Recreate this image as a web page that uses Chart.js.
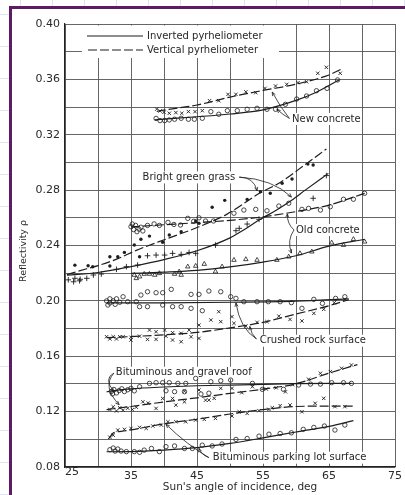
<!DOCTYPE html>
<html>
<head>
<meta charset="utf-8">
<script src="https://cdn.jsdelivr.net/npm/chart.js@4.4.1/dist/chart.umd.min.js"></script>
<style>
html, body { margin: 0; padding: 0; }
body {
  width: 405px; height: 495px; overflow: hidden; position: relative;
  background-color: #fff;
  background-image:
    repeating-linear-gradient(to bottom, transparent 0 14px, #dde5f3 14px 15px, transparent 15px 32px),
    repeating-linear-gradient(to right, transparent 0 20px, #dde5f3 20px 21px, transparent 21px 32px);
}
#chart { position: absolute; left: 0; top: 0; }
</style>
</head>
<body>
<canvas id="chart" width="405" height="495"></canvas>
<script>
// x = sun's angle of incidence (deg), y = reflectivity
const ncInvCurve = [[38.6,0.3308],[40,0.3313],[45,0.333],[50,0.335],[55,0.338],[60,0.3448],[63,0.3505],[66.5,0.3595]];
const ncVerCurve = [[38.9,0.3368],[40,0.3378],[45,0.3415],[50,0.3472],[55,0.352],[60,0.3565],[65,0.3632],[66.8,0.3672]];
const ncInvPts = [[38.8,0.3318],[39.4,0.3302],[40.1,0.3302],[40.8,0.3307],[41.6,0.3312],[42.6,0.3319],[43.7,0.3312],[44.6,0.3312],[45.8,0.3319],[47.1,0.3367],[48.3,0.3348],[49.6,0.3374],[51.1,0.3374],[52.6,0.3384],[54.1,0.3391],[55.6,0.3384],[56.9,0.3384],[58.4,0.342],[60.1,0.3458],[61.6,0.348],[63.1,0.3518],[64.7,0.3535],[66.3,0.3596]];
const ncVerPts = [[38.9,0.3385],[39.4,0.3372],[40.0,0.3362],[40.8,0.3355],[41.8,0.336],[42.7,0.3355],[43.7,0.3367],[44.7,0.3367],[45.8,0.3374],[46.9,0.3446],[48.3,0.3446],[49.7,0.3492],[50.9,0.3492],[52.4,0.351],[53.9,0.3504],[55.3,0.3535],[56.9,0.3552],[58.6,0.3564],[60.3,0.3576],[61.6,0.3583],[63.3,0.3644],[64.6,0.3687],[66.7,0.3644]];

const grassVerCurve = [[25.3,0.219],[28.3,0.2232],[30,0.2255],[33,0.2305],[35.8,0.2365],[40.8,0.2455],[45.3,0.2535],[49.5,0.2625],[54.4,0.2775],[57.6,0.2855],[61.4,0.2985],[64.6,0.3097]];
const grassVerPts = [[26.5,0.2258],[28.5,0.2254],[29.2,0.2246],[31.8,0.2252],[31.8,0.2319],[33.0,0.2319],[34.0,0.235],[35.5,0.2404],[36.3,0.2319],[36.5,0.2445],[37.8,0.2468],[39.8,0.2423],[40.8,0.2476],[42.6,0.25],[44.8,0.2577],[45.3,0.256],[47.3,0.2676],[49.2,0.2726],[52.6,0.2733],[54.6,0.2789],[56.1,0.2777],[57.9,0.2849],[59.4,0.288],[61.8,0.2988],[62.6,0.2981]];
const grassInvCurve = [[25.3,0.2185],[30,0.2205],[35,0.2248],[40,0.2298],[45,0.2362],[50,0.2455],[52,0.251],[54.4,0.2584],[57,0.2655],[59.4,0.2729],[61.4,0.280],[64.9,0.2921]];
const grassInvPts = [[25.5,0.2152],[26.3,0.2138],[27.2,0.2145],[26.5,0.2163],[27.3,0.2156],[28.3,0.2163],[29.3,0.2187],[30.5,0.2194],[32.8,0.2228],[34.3,0.2247],[36.0,0.2259],[37.5,0.2326],[38.8,0.2331],[40.1,0.2331],[41.3,0.2343],[42.6,0.2336],[43.8,0.235],[44.8,0.2343],[47.8,0.2403],[50.9,0.2507],[51.4,0.2524],[52.6,0.2555],[54.4,0.2589],[62.6,0.2741],[64.6,0.2905]];

const ocVerCurve = [[35,0.2535],[40,0.255],[45,0.2565],[50,0.2582],[55,0.2607],[60,0.2645],[65,0.2692],[70.4,0.2777]];
const ocVerPts = [[35.0,0.2536],[35.2,0.2555],[35.4,0.2515],[35.7,0.2545],[35.9,0.25],[36.2,0.2518],[36.5,0.2532],[36.8,0.2505],[37.5,0.2545],[38.5,0.2556],[39.3,0.2545],[40.6,0.2567],[41.5,0.2552],[42.5,0.2548],[43.6,0.2596],[44.5,0.2575],[45.3,0.26],[46.3,0.2577],[47.5,0.2577],[50.6,0.2633],[52.1,0.2656],[53.9,0.2661],[55.6,0.2651],[57.4,0.2685],[58.9,0.2705],[60.9,0.2661],[61.9,0.2668],[63.7,0.2656],[65.2,0.268],[67.2,0.2734],[68.7,0.2734],[70.4,0.2777]];
const ocInvCurve = [[35,0.2198],[40,0.2207],[45,0.222],[50,0.2245],[55,0.228],[60,0.2326],[65,0.2395],[70.4,0.2445]];
const ocInvPts = [[35.5,0.2187],[35.8,0.2163],[36.3,0.2175],[37.0,0.2194],[37.8,0.2194],[38.6,0.2187],[39.3,0.2199],[41.6,0.2194],[42.3,0.2211],[42.6,0.2187],[43.6,0.2247],[44.8,0.2252],[46.1,0.2266],[47.8,0.2211],[48.8,0.2247],[50.6,0.2295],[52.4,0.23],[54.1,0.2295],[57.1,0.2295],[58.9,0.2319],[60.6,0.2343],[62.4,0.2355],[65.4,0.242],[67.2,0.2403],[68.7,0.2445],[70.4,0.2427]];

const crInvCurve = [[31.3,0.1985],[40,0.1986],[50,0.199],[60,0.1998],[68,0.2015]];
const crInvPts = [[31.3,0.2],[31.8,0.2015],[32.3,0.2],[32.8,0.2015],[31.8,0.1985],[32.6,0.1975],[33.3,0.199],[31.5,0.197],[33.8,0.203],[34.5,0.1994],[35.8,0.1994],[36.5,0.2042],[36.3,0.1958],[37.5,0.2066],[37.5,0.1958],[38.8,0.2059],[39.8,0.2059],[39.8,0.197],[41.1,0.2083],[41.3,0.1958],[42.6,0.1958],[44.1,0.2047],[44.1,0.1946],[45.3,0.2047],[45.8,0.1929],[46.8,0.2071],[48.6,0.2066],[50.1,0.203],[50.9,0.2018],[52.1,0.1994],[54.1,0.1994],[55.8,0.1994],[57.6,0.1994],[59.3,0.1987],[60.9,0.1946],[62.7,0.2011],[64.0,0.1982],[66.0,0.2018],[67.4,0.203]];
const crVerCurve = [[31.3,0.1735],[35,0.1742],[40,0.1755],[45,0.1772],[50,0.1805],[55,0.1845],[60,0.1905],[65,0.1965],[68,0.2008]];
const crVerPts = [[31.3,0.1741],[31.8,0.1725],[32.3,0.1741],[32.8,0.1725],[33.3,0.1741],[33.8,0.1741],[35.0,0.1717],[35.0,0.1737],[36.3,0.1745],[37.5,0.1722],[37.8,0.1789],[38.8,0.1722],[38.8,0.1777],[40.1,0.1789],[40.3,0.1745],[41.3,0.1717],[41.3,0.177],[42.6,0.1705],[42.6,0.1766],[43.8,0.1789],[44.1,0.1741],[45.3,0.1729],[45.3,0.1825],[47.1,0.1862],[48.6,0.185],[48.3,0.1922],[50.3,0.1886],[50.6,0.1838],[52.4,0.1818],[54.1,0.1845],[55.6,0.185],[57.4,0.189],[59.1,0.1866],[60.9,0.1855],[62.7,0.191],[64.2,0.1939],[65.8,0.1987],[67.4,0.2011]];

const rfInvCurve = [[31.3,0.1343],[33,0.1355],[35,0.1365],[40,0.1378],[45,0.1387],[50,0.1392],[55,0.1397],[60,0.1402],[68.4,0.1404]];
const rfInvPts = [[32.0,0.1345],[32.2,0.1328],[32.4,0.136],[32.8,0.1335],[33.2,0.1352],[33.6,0.1365],[34.0,0.1345],[34.5,0.1358],[35.0,0.1368],[35.5,0.135],[36.3,0.138],[37.8,0.1404],[38.8,0.1409],[39.8,0.1409],[40.8,0.1409],[40.3,0.1351],[41.6,0.1344],[42.1,0.1404],[43.3,0.1404],[43.1,0.1344],[44.8,0.144],[45.6,0.1327],[46.8,0.1333],[47.1,0.1416],[48.6,0.1423],[50.1,0.1428],[53.4,0.1404],[54.9,0.1361],[58.1,0.1361],[60.4,0.1392],[62.2,0.1399],[63.7,0.1399],[65.4,0.1409],[67.2,0.1409],[68.4,0.1404]];
const rfVerCurve = [[31.3,0.1215],[35,0.1237],[40,0.127],[45,0.13],[50,0.1332],[55,0.1362],[60,0.1401],[65,0.1478],[69.3,0.154]];
const rfVerPts = [[31.8,0.1215],[32.3,0.1235],[32.8,0.1205],[33.3,0.1228],[33.8,0.121],[34.5,0.1225],[35.2,0.1215],[35.8,0.1232],[36.8,0.1271],[37.6,0.1262],[38.8,0.1223],[39.8,0.1295],[41.3,0.1295],[41.8,0.1247],[43.1,0.1271],[43.1,0.1348],[45.3,0.1356],[46.3,0.1283],[46.8,0.1283],[47.6,0.1296],[48.6,0.1368],[50.3,0.1368],[51.8,0.1337],[53.4,0.138],[55.5,0.1363],[57.0,0.1372],[58.4,0.1343],[59.5,0.1395],[61.9,0.1434],[63.7,0.1477],[65.2,0.1489],[66.9,0.1513],[68.4,0.1537]];

const pkVerCurve = [[31.6,0.1003],[32.3,0.1045],[33.5,0.1057],[35,0.1068],[40,0.1112],[45,0.1145],[50,0.1183],[55,0.1215],[60,0.1237],[65,0.124],[69,0.124]];
const pkVerPts = [[31.8,0.1015],[32.3,0.103],[33.0,0.1067],[34.0,0.1072],[35.0,0.1079],[36.3,0.1086],[37.3,0.1079],[38.3,0.1096],[39.6,0.1103],[40.6,0.1127],[41.8,0.1127],[43.3,0.1127],[44.8,0.1139],[46.1,0.1144],[47.8,0.1151],[50.3,0.1168],[51.4,0.1199],[52.6,0.1187],[54.4,0.1207],[55.9,0.1216],[56.4,0.1228],[57.6,0.1243],[59.1,0.1248],[60.9,0.1199],[62.9,0.126],[64.2,0.1296],[65.9,0.1236],[67.4,0.1236]];
const pkInvCurve = [[31.3,0.091],[35,0.0911],[40,0.0922],[45,0.094],[50,0.097],[55,0.101],[60,0.1053],[65,0.1093],[68.7,0.1135]];
const pkInvPts = [[31.8,0.0925],[32.3,0.0937],[32.6,0.0915],[33.0,0.093],[33.5,0.0915],[34.3,0.0911],[35.5,0.0911],[36.3,0.0906],[37.0,0.0922],[38.1,0.0934],[39.3,0.0911],[40.3,0.0947],[41.6,0.0952],[43.1,0.0934],[44.3,0.0934],[45.8,0.0958],[47.3,0.0952],[48.8,0.0966],[50.9,0.0999],[52.6,0.1006],[54.4,0.1023],[55.9,0.1037],[57.6,0.1042],[59.3,0.1047],[61.1,0.1072],[62.7,0.1086],[64.3,0.1096],[65.9,0.1067],[67.4,0.1103]];

const xLabels = [35, 45, 55, 65, 75];
const yLabels = [0.08, 0.12, 0.16, 0.20, 0.24, 0.28, 0.32, 0.36, 0.40];
const legendNames = ['Inverted pyrheliometer', 'Vertical pyrheliometer'];

// label text, anchor (x, y) and leader lines [start, bend, end]
const noteTexts = ['New concrete', 'Bright green grass', 'Old concrete', 'Crushed rock surface', 'Bituminous and gravel roof', 'Bituminous parking lot surface'];
const noteAnchors = [[59.4,0.3314],[36.75,0.2892],[60.0,0.2512],[54.5,0.1712],[32.7,0.1481],[47.4,0.0867]];
const noteLeaders = [
  [[[59.0,0.3318],[57.6,0.34],[56.4,0.3508]], [[59.0,0.3318],[58.0,0.3345],[57.1,0.3384]]],
  [[[51.4,0.2894],[53.6,0.2895],[54.1,0.2795]], [[51.4,0.2894],[56.5,0.288],[59.3,0.275]]],
  [[[59.7,0.2512],[58.6,0.256],[58.7,0.2628]], [[59.7,0.2512],[58.6,0.244],[59.3,0.2345]]],
  [[[54.0,0.1725],[51.5,0.18],[50.9,0.1985]], [[54.0,0.1725],[53.2,0.176],[53.0,0.1815]]],
  [[[32.4,0.1478],[30.8,0.144],[32.4,0.1345]], [[32.4,0.1478],[30.6,0.138],[33.2,0.125]]],
  [[[46.8,0.0868],[43.5,0.096],[40.3,0.1108]], [[46.8,0.0868],[45.6,0.089],[45.3,0.0935]]]
];

const ink = '#1e1e1e';
const toXY = a => a.map(p => ({ x: p[0], y: p[1] }));

const markStyles = {
  circle: { pointStyle: 'circle', pointRadius: 2.2, pointBackgroundColor: 'rgba(0,0,0,0)', pointBorderWidth: 0.8 },
  cross: { pointStyle: 'crossRot', pointRadius: 2.4, pointBorderWidth: 0.9 },
  plus: { pointStyle: 'cross', pointRadius: 2.8, pointBorderWidth: 0.9 },
  dot: { pointStyle: 'circle', pointRadius: 1.7, pointBackgroundColor: ink, pointBorderWidth: 0 },
  tri: { pointStyle: 'triangle', pointRadius: 2.6, pointBackgroundColor: 'rgba(0,0,0,0)', pointBorderWidth: 0.8 }
};

function curve(arr, dashed) {
  return {
    data: toXY(arr), showLine: true, pointRadius: 0,
    borderColor: ink, borderWidth: 1.2, borderDash: dashed ? [9, 3] : [],
    cubicInterpolationMode: 'monotone', fill: false
  };
}
function marks(arr, kind) {
  return Object.assign({ data: toXY(arr), showLine: false, pointBorderColor: ink }, markStyles[kind]);
}

const datasets = [
  curve(ncInvCurve, false), curve(ncVerCurve, true), marks(ncInvPts, 'circle'), marks(ncVerPts, 'cross'),
  curve(grassVerCurve, true), curve(grassInvCurve, false), marks(grassVerPts, 'dot'), marks(grassInvPts, 'plus'),
  curve(ocVerCurve, true), curve(ocInvCurve, false), marks(ocVerPts, 'circle'), marks(ocInvPts, 'tri'),
  curve(crInvCurve, false), curve(crVerCurve, true), marks(crInvPts, 'circle'), marks(crVerPts, 'cross'),
  curve(rfInvCurve, false), curve(rfVerCurve, true), marks(rfInvPts, 'circle'), marks(rfVerPts, 'cross'),
  curve(pkVerCurve, true), curve(pkInvCurve, false), marks(pkVerPts, 'cross'), marks(pkInvPts, 'circle')
];

const FONT = '"DejaVu Sans", sans-serif';

const framePlugin = {
  id: 'frame',
  beforeDraw(chart) {
    const ctx = chart.ctx;
    ctx.save();
    ctx.fillStyle = '#fff';
    ctx.fillRect(10, 7, 395, 488);
    ctx.strokeStyle = '#5e1a63';
    ctx.lineWidth = 3;
    ctx.beginPath();
    ctx.moveTo(10.5, 495);
    ctx.lineTo(10.5, 7.5);
    ctx.lineTo(405, 7.5);
    ctx.stroke();
    ctx.restore();
  }
};

function arrowHead(ctx, fx, fy, tx, ty) {
  const a = Math.atan2(ty - fy, tx - fx);
  ctx.beginPath();
  ctx.moveTo(tx, ty);
  ctx.lineTo(tx - 4 * Math.cos(a - 0.4), ty - 4 * Math.sin(a - 0.4));
  ctx.moveTo(tx, ty);
  ctx.lineTo(tx - 4 * Math.cos(a + 0.4), ty - 4 * Math.sin(a + 0.4));
  ctx.stroke();
}

const notesPlugin = {
  id: 'notes',
  beforeDatasetsDraw(chart) {
    const ctx = chart.ctx, xs = chart.scales.x, ys = chart.scales.y;
    ctx.save();
    ctx.fillStyle = '#fff';
    // legend box hides the grid behind it
    ctx.fillRect(82, 25.5, 197, 32.5);
    ctx.font = '10px ' + FONT;
    noteTexts.forEach((t, i) => {
      const px = xs.getPixelForValue(noteAnchors[i][0]);
      const py = ys.getPixelForValue(noteAnchors[i][1]);
      ctx.fillRect(px - 1, py - 6, ctx.measureText(t).width + 2, 12);
    });
    ctx.restore();
  },
  afterDatasetsDraw(chart) {
    const ctx = chart.ctx, xs = chart.scales.x, ys = chart.scales.y;
    ctx.save();
    ctx.strokeStyle = ink;
    ctx.fillStyle = '#262626';
    // legend
    ctx.lineWidth = 1.2;
    ctx.beginPath(); ctx.moveTo(87, 36); ctx.lineTo(143, 36); ctx.stroke();
    ctx.setLineDash([9, 3]);
    ctx.beginPath(); ctx.moveTo(88, 50); ctx.lineTo(143, 50); ctx.stroke();
    ctx.setLineDash([]);
    ctx.font = '10px ' + FONT;
    ctx.textBaseline = 'middle';
    ctx.textAlign = 'left';
    ctx.fillText(legendNames[0], 147, 36);
    ctx.fillText(legendNames[1], 147, 50);
    // notes and leaders
    noteTexts.forEach((t, i) => {
      ctx.fillText(t, xs.getPixelForValue(noteAnchors[i][0]), ys.getPixelForValue(noteAnchors[i][1]));
    });
    ctx.lineWidth = 0.8;
    noteLeaders.forEach(pair => pair.forEach(l => {
      const p = l.map(q => [xs.getPixelForValue(q[0]), ys.getPixelForValue(q[1])]);
      ctx.beginPath();
      ctx.moveTo(p[0][0], p[0][1]);
      ctx.quadraticCurveTo(p[1][0], p[1][1], p[2][0], p[2][1]);
      ctx.stroke();
      arrowHead(ctx, p[1][0], p[1][1], p[2][0], p[2][1]);
    }));
    ctx.restore();
  },
  afterDraw(chart) {
    const ctx = chart.ctx;
    ctx.save();
    ctx.fillStyle = '#2a2a2a';
    ctx.textAlign = 'center';
    ctx.textBaseline = 'middle';
    ctx.font = '11px ' + FONT;
    ctx.fillText('25', 72, 472);
    ctx.font = '10.5px ' + FONT;
    ctx.fillText("Sun's angle of incidence, deg", 240, 487);
    ctx.translate(24, 251);
    ctx.rotate(-Math.PI / 2);
    ctx.font = '9.5px ' + FONT;
    ctx.fillText('Reflectivity ρ', 0, 0);
    ctx.restore();
  }
};

Chart.defaults.font.family = FONT;

new Chart(document.getElementById('chart'), {
  type: 'scatter',
  data: { datasets: datasets },
  options: {
    responsive: false,
    animation: false,
    events: [],
    layout: { padding: { left: 0, right: 8, top: 24, bottom: 0 } },
    plugins: { legend: { display: false }, tooltip: { enabled: false } },
    scales: {
      x: {
        type: 'linear', min: 25, max: 75,
        afterFit: s => { s.height = 28; },
        ticks: {
          stepSize: 5, padding: 3, color: '#2a2a2a', font: { size: 11 }, maxRotation: 0,
          callback: v => xLabels.includes(v) ? String(v) : ''
        },
        grid: { color: '#555', lineWidth: 0.9, drawTicks: false },
        border: { color: '#222', width: 1.2 }
      },
      y: {
        type: 'linear', min: 0.08, max: 0.40,
        afterFit: s => { s.width = 65; },
        ticks: {
          stepSize: 0.02, padding: 5, color: '#2a2a2a', font: { size: 11 },
          callback: v => yLabels.some(t => Math.abs(t - v) < 1e-6) ? v.toFixed(2) : ''
        },
        grid: { color: '#555', lineWidth: 0.9, drawTicks: false },
        border: { color: '#222', width: 1.2 }
      }
    }
  },
  plugins: [framePlugin, notesPlugin]
});
</script>
</body>
</html>
